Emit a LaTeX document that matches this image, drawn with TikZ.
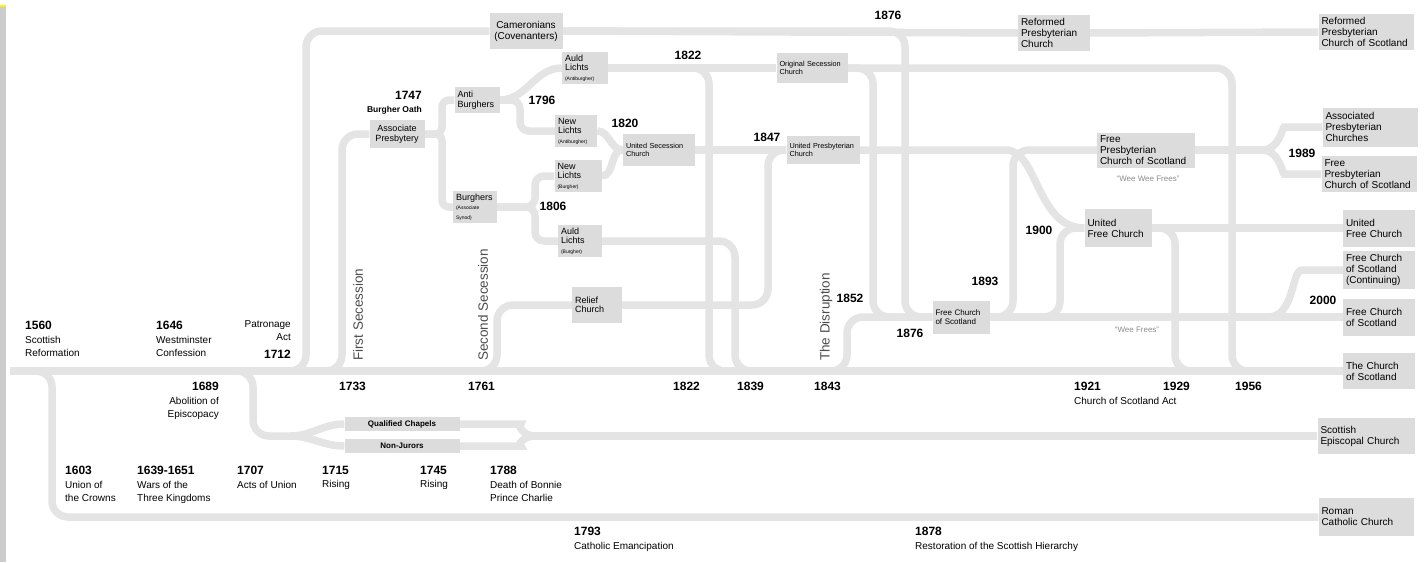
\documentclass[tikz,border=0pt]{standalone}
\usepackage{fontspec}
\setmainfont{Liberation Sans}
\usetikzlibrary{backgrounds}
\definecolor{trackgray}{HTML}{E4E4E4}
\definecolor{boxgray}{HTML}{DCDCDC}
\newcommand{\yearlbl}[1]{{\fontsize{12}{13}\selectfont\bfseries #1}}
\newcommand{\subnote}[1]{{\fontsize{5}{6}\selectfont #1}}

\begin{document}
\begin{tikzpicture}[x=1pt, y=-1pt,
    track/.style={draw=trackgray, line width=7.5pt, rounded corners=16pt},
    church/.style={fill=boxgray, inner sep=3pt, align=left, font=\fontsize{10}{11}\selectfont},
    midchurch/.style={church, font=\fontsize{9}{9.5}\selectfont},
    smallchurch/.style={church, font=\fontsize{7.3}{8.5}\selectfont},
    event/.style={inner sep=0pt, align=left, font=\fontsize{10}{13.5}\selectfont},
    yearlabel/.style={inner sep=0pt, font=\fontsize{12}{13}\selectfont\bfseries},
    secession/.style={rotate=90, anchor=west, inner sep=0pt, text=black!70, font=\fontsize{13.5}{14}\selectfont},
    nickname/.style={inner sep=0pt, text=black!45, font=\fontsize{8}{9}\selectfont}]
    \useasboundingbox (0,0) rectangle (1426,562);
    \fill[gray!40] (0,7) rectangle (6,562);
    \fill[yellow] (0,5) rectangle (6,7);

    \node[church, align=center, text width=67, minimum height=36] (cam) at (526,31) {Cameronians\\(Covenanters)};
    \node[church, text width=66, minimum height=36] (rpc) at (1054,33) {Reformed\\Presbyterian\\Church};
    \node[church, text width=89, minimum height=36] (rpcs) at (1366,32) {Reformed\\Presbyterian\\Church of Scotland};
    \node[church, text width=89, minimum height=39] (apc) at (1370,127) {Associated\\Presbyterian\\Churches};
    \node[church, text width=89, minimum height=36] (fpcs2) at (1369,174) {Free\\Presbyterian\\Church of Scotland};
    \node[church, text width=66, minimum height=37] (ufc2) at (1379,228) {United\\Free Church};
    \node[church, text width=66, minimum height=38] (fcc) at (1379,270) {Free Church\\of Scotland\\(Continuing)};
    \node[church, text width=66, minimum height=37] (fcs2) at (1379,317) {Free Church\\of Scotland};
    \node[church, text width=66, minimum height=36] (cos) at (1379,371) {The Church\\of Scotland};
    \node[church, text width=91, minimum height=36] (sec) at (1366,436) {Scottish\\Episcopal Church};
    \node[church, text width=89, minimum height=38] (rcc) at (1366,517) {Roman\\Catholic Church};
    \node[church, text width=92, minimum height=35] (fpcs) at (1146,150) {Free\\Presbyterian\\Church of Scotland};
    \node[church, text width=61, minimum height=38] (ufc) at (1118,228) {United\\Free Church};
    \node[smallchurch, text width=65, minimum height=30] (osc) at (812,68) {\mbox{Original Secession}\\Church};
    \node[smallchurch, text width=67, minimum height=28] (upc) at (823,150) {\mbox{United Presbyterian}\\Church};
    \node[smallchurch, text width=66, minimum height=32] (usc) at (659,150) {\mbox{United Secession}\\Church};
    \node[smallchurch, font=\fontsize{8}{9}\selectfont, text width=51, minimum height=33] (fcs) at (961,317) {Free Church\\of Scotland};
    \node[midchurch, align=center, text width=49, minimum height=28] (ap) at (397,134) {Associate\\Presbytery};
    \node[midchurch, text width=39, minimum height=26] (anti) at (477,100) {Anti\\Burghers};
    \node[midchurch, text width=38, minimum height=26] (burg) at (475,207) {Burghers\\\subnote{(Associate Synod)}};
    \node[midchurch, text width=40, minimum height=31] (alA) at (585,68) {Auld\\Lichts\\\subnote{(Antiburgher)}};
    \node[midchurch, text width=36, minimum height=32] (nlA) at (576,131) {New\\Lichts\\\subnote{(Antiburgher)}};
    \node[midchurch, text width=41, minimum height=32] (nlB) at (578,176) {New\\Lichts\\\subnote{(Burgher)}};
    \node[midchurch, text width=38, minimum height=31] (alB) at (580,241) {Auld\\Lichts\\\subnote{(Burgher)}};
    \node[midchurch, text width=44, minimum height=36] (relief) at (597,305) {Relief\\Church};
    \node[church, align=center, font=\fontsize{8}{9}\selectfont\bfseries, inner sep=0pt, text width=115, minimum height=14] (qc) at (402,424) {Qualified Chapels};
    \node[church, align=center, font=\fontsize{8}{9}\selectfont\bfseries, inner sep=0pt, text width=115, minimum height=14] (nj) at (402,446) {Non-Jurors};

    \node[event, anchor=north west] (ev1560) at (25,321) {\yearlbl{1560}\\Scottish\\Reformation};
    \node[event, anchor=north west] (ev1646) at (156,321) {\yearlbl{1646}\\Westminster\\Confession};
    \node[event, align=right, anchor=north east] (ev1712) at (291,320) {Patronage\\Act\\[4pt]\yearlbl{1712}};
    \node[event, align=right, anchor=north east] (ev1689) at (219,382) {\yearlbl{1689}\\Abolition of\\Episcopacy};
    \node[event, anchor=north west] (ev1603) at (65,466) {\yearlbl{1603}\\Union of\\the Crowns};
    \node[event, anchor=north west] (ev1639) at (137,466) {\yearlbl{1639-1651}\\Wars of the\\Three Kingdoms};
    \node[event, anchor=north west] (ev1707) at (237,466) {\yearlbl{1707}\\Acts of Union};
    \node[event, anchor=north west] (ev1715) at (322,466) {\yearlbl{1715}\\Rising};
    \node[event, anchor=north west] (ev1745) at (420,466) {\yearlbl{1745}\\Rising};
    \node[event, anchor=north west] (ev1788) at (490,466) {\yearlbl{1788}\\Death of Bonnie\\Prince Charlie};
    \node[event, anchor=north west] (ev1793) at (574,527) {\yearlbl{1793}\\Catholic Emancipation};
    \node[event, anchor=north west] (ev1878) at (915,527) {\yearlbl{1878}\\Restoration of the Scottish Hierarchy};
    \node[event, anchor=north west] (ev1921) at (1074,382) {\yearlbl{1921}\\Church of Scotland Act};

    \node[yearlabel, anchor=north west] (y1733) at (339,382) {1733};
    \node[yearlabel, anchor=north west] (y1761) at (468,382) {1761};
    \node[yearlabel, anchor=north west] (y1822b) at (673,382) {1822};
    \node[yearlabel, anchor=north west] (y1839) at (737,382) {1839};
    \node[yearlabel, anchor=north west] (y1843) at (814,382) {1843};
    \node[yearlabel, anchor=north west] (y1929) at (1163,382) {1929};
    \node[yearlabel, anchor=north west] (y1956) at (1235,382) {1956};
    \node[yearlabel] (y1876a) at (888,15) {1876};
    \node[yearlabel] (y1822a) at (688,55) {1822};
    \node[yearlabel, anchor=north east] (y1747) at (422,91) {1747};
    \node[inner sep=0pt, anchor=east, font=\fontsize{8.5}{9}\selectfont\bfseries] (oath) at (422,110) {Burgher Oath};
    \node[yearlabel] (y1796) at (542,100) {1796};
    \node[yearlabel] (y1820) at (625,123) {1820};
    \node[yearlabel] (y1806) at (553,206) {1806};
    \node[yearlabel] (y1847) at (767,137) {1847};
    \node[yearlabel] (y1852) at (850,298) {1852};
    \node[yearlabel] (y1893) at (985,281) {1893};
    \node[yearlabel] (y1900) at (1039,230) {1900};
    \node[yearlabel] (y1876b) at (910,333) {1876};
    \node[yearlabel] (y1989) at (1302,153) {1989};
    \node[yearlabel] (y2000) at (1323,300) {2000};

    \node[secession] (first) at (358,361) {First Secession};
    \node[secession] (second) at (483,361) {Second Secession};
    \node[secession] (disruption) at (826,361) {The Disruption};
    \node[nickname] (weewee) at (1148,179) {``Wee Wee Frees''};
    \node[nickname] (wee) at (1137,330) {``Wee Frees''};

    \begin{scope}[on background layer]
    \coordinate (reform) at (10,371);
    \coordinate (jrc) at (52,517);
    \coordinate (jep) at (253,436);
    \coordinate (epsplit) at (290,436);
    \coordinate (epjoin) at (535,436);
    \coordinate (jcam) at (306,31);
    \coordinate (j1733) at (342,134);
    \coordinate (jab) at (442,100);
    \coordinate (jbg) at (442,207);
    \coordinate (j1796) at (520,131);
    \coordinate (j1806a) at (535,176);
    \coordinate (j1806b) at (535,241);
    \coordinate (j1761) at (497,305);
    \coordinate (j1822) at (709,371);
    \coordinate (j1839) at (735,371);
    \coordinate (j1847) at (768,150);
    \coordinate (j1843) at (847,317);
    \coordinate (j1852) at (873,317);
    \coordinate (j1876) at (905,317);
    \coordinate (j1893) at (1013,150);
    \coordinate (j1900) at (1060,228);
    \coordinate (jup) at (990,150);
    \coordinate (j1929) at (1175,371);
    \coordinate (j1956) at (1232,371);
    \coordinate (j1989) at (1262,150);
    \coordinate (j2000) at (1268,317);

    \draw[track] (reform) -- (cos.west);
    \draw[track] (reform) -| (jrc) -- (rcc.west);
    \draw[track] (reform) -| (jep) -- (epsplit);
    \draw[track] (epsplit) to[out=0,in=180] (qc.west) (qc.east) -- ++(45,0) to[out=0,in=180] (epjoin);
    \draw[track] (epsplit) to[out=0,in=180] (nj.west) (nj.east) -- ++(45,0) to[out=0,in=180] (epjoin);
    \draw[track] (epjoin) -- (sec.west);
    \draw[track] (reform) -| (jcam) -- (cam.west);
    \draw[track] (cam.east) -- (rpc.west);
    \draw[track] (rpc.east) -- (rpcs.west);
    \draw[track] (cam.east) -| (j1876) -- (fcs.west);
    \draw[track] (reform) -| (j1733) -- (ap.west);
    \draw[track, rounded corners=7pt] (ap.east) -| (jab) -- (anti.west);
    \draw[track, rounded corners=7pt] (ap.east) -| (jbg) -- (burg.west);
    \draw[track] (anti.east) to[out=0,in=180] (alA.west);
    \draw[track, rounded corners=9pt] (anti.east) -| (j1796) -- (nlA.west);
    \draw[track, rounded corners=9pt] (burg.east) -| (j1806a) -- (nlB.west);
    \draw[track, rounded corners=9pt] (burg.east) -| (j1806b) -- (alB.west);
    \draw[track] (nlA.east) to[out=0,in=180] (usc.west);
    \draw[track] (nlB.east) to[out=0,in=180] (usc.west);
    \draw[track] (usc.east) -- (upc.west);
    \draw[track] (alA.east) -- (osc.west);
    \draw[track] (alA.east) -| (j1822) -- (cos.west);
    \draw[track] (alB.east) -| (j1839) -- (cos.west);
    \draw[track] (reform) -| (j1761) -- (relief.west);
    \draw[track] (relief.east) -| (j1847) -- (upc.west);
    \draw[track] (reform) -| (j1843) -- (fcs.west);
    \draw[track] (osc.east) -| (j1852) -- (fcs.west);
    \draw[track] (osc.east) -| (j1956) -- (cos.west);
    \draw[track] (fcs.east) -- (fcs2.west);
    \draw[track] (fcs.east) -| (j1893) -- (fpcs.west);
    \draw[track] (fcs.east) -| (j1900) -- (ufc.west);
    \draw[track] (upc.east) -- (jup) to[out=0,in=180] (ufc.west);
    \draw[track] (ufc.east) -- (ufc2.west);
    \draw[track] (ufc.east) -| (j1929) -- (cos.west);
    \draw[track] (fpcs.east) -- (j1989);
    \draw[track] (j1989) to[out=0,in=180] ++(38,-23) -- (apc.west);
    \draw[track] (j1989) to[out=0,in=180] ++(38,24) -- (fpcs2.west);
    \draw[track] (j2000) to[out=0,in=180] ++(50,-47) -- (fcc.west);
    \end{scope}
\end{tikzpicture}
\end{document}
